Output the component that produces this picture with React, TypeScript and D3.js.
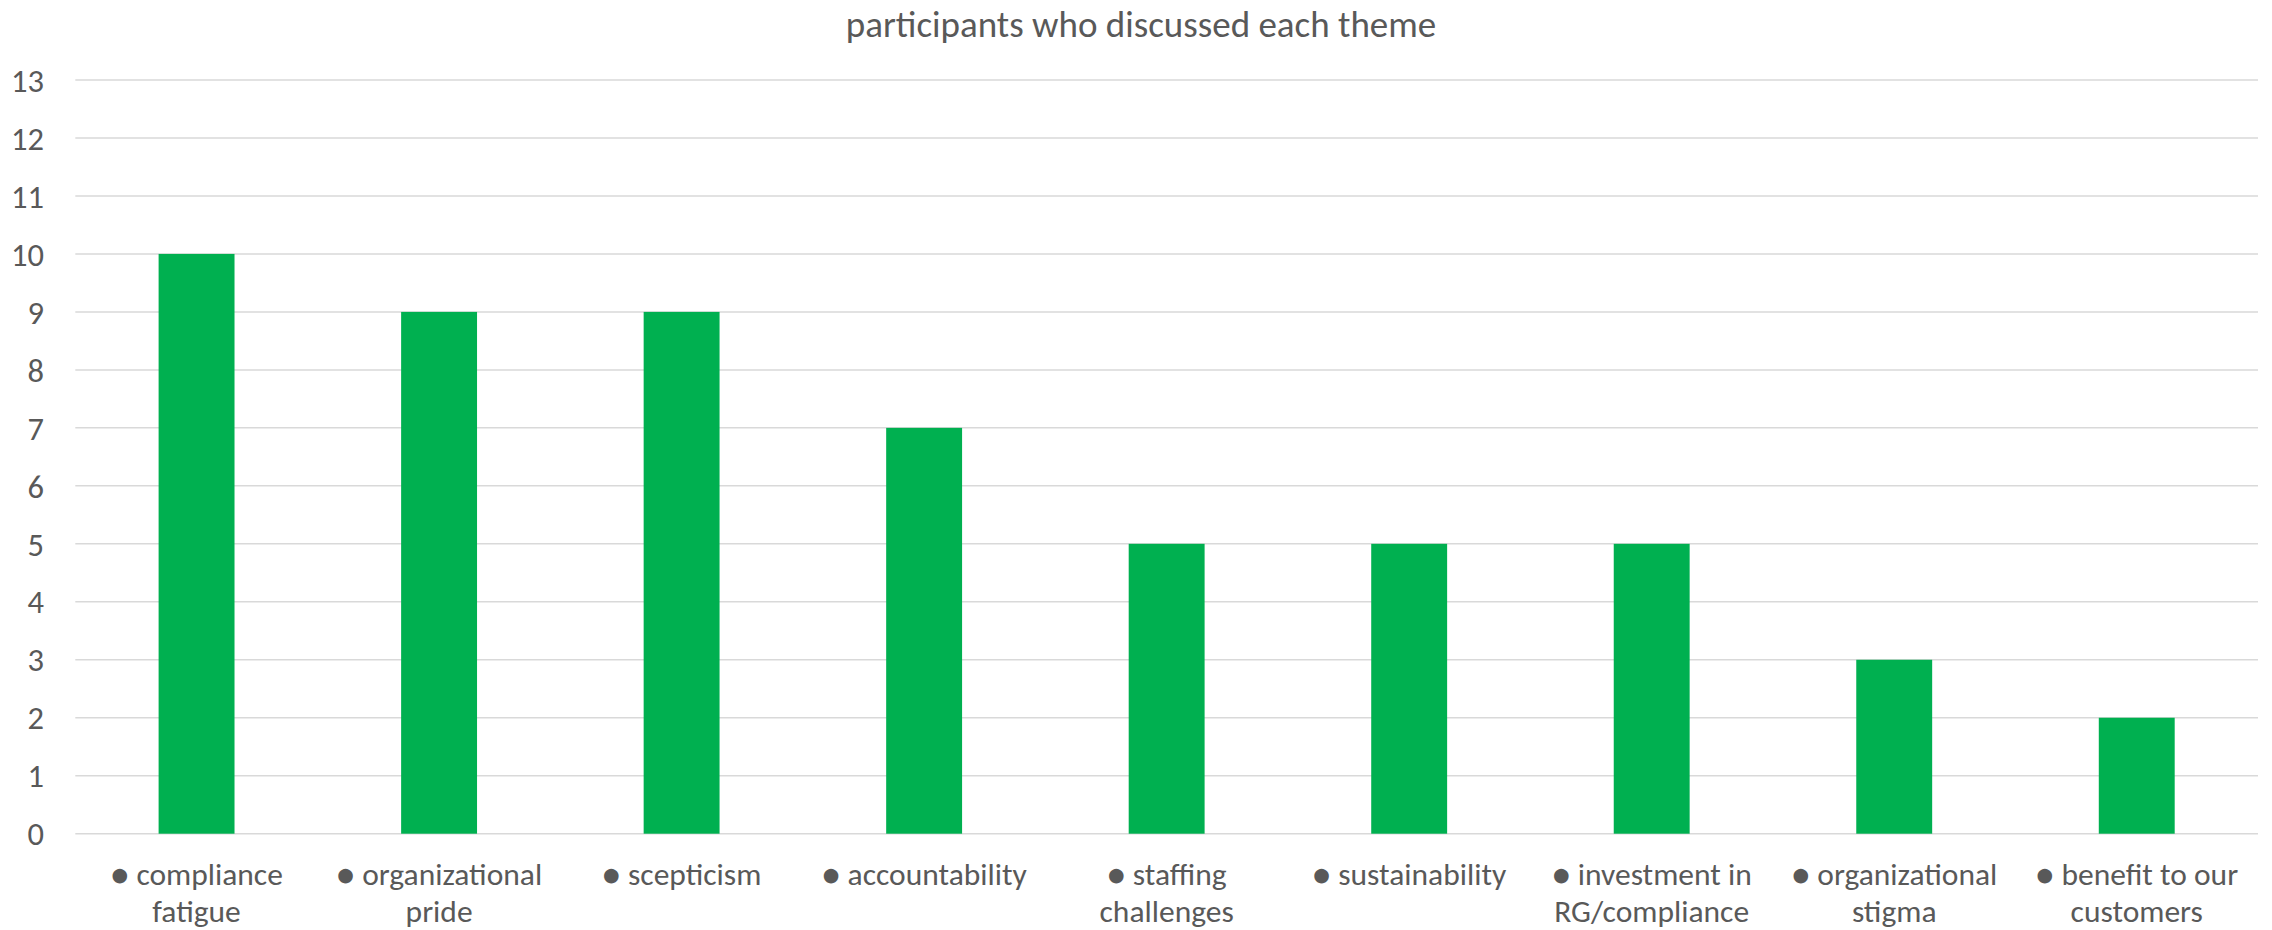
import React from "react";
import * as d3 from "d3";

const title = "participants who discussed each theme";
const categories: string[][] = [
  ["\u25CF compliance", "fatigue"],
  ["\u25CF organizational", "pride"],
  ["\u25CF scepticism"],
  ["\u25CF accountability"],
  ["\u25CF staffing", "challenges"],
  ["\u25CF sustainability"],
  ["\u25CF investment in", "RG/compliance"],
  ["\u25CF organizational", "stigma"],
  ["\u25CF benefit to our", "customers"],
];
const values: number[] = [10, 9, 9, 7, 5, 5, 5, 3, 2];
const yTicks: number[] = d3.range(0, 14);

const W = 2272;
const H = 930;
const FONT = "Carlito, Calibri, Lato, 'Open Sans', sans-serif";
const TEXT = "#595959";

export default function App() {
  const left = 75.3;
  const right = 2258;
  const top = 80;
  const bottom = 833.7;
  const keys = categories.map((_, i) => String(i));
  const x = d3.scaleBand<string>().domain(keys).range([left, right]).paddingInner(0.687).paddingOuter(0.3435);
  const y = d3.scaleLinear().domain([0, 13]).range([bottom, top]);
  const labelSize = 31.5;
  const lineStep = labelSize * 1.205;

  return (
    <svg width={W} height={H} style={{ position: "absolute", left: 0, top: 0, background: "#fff" }} fontFamily={FONT}>
      <rect x={0} y={0} width={W} height={H} fill="#fff" />
      <text x={1141} y={37} textAnchor="middle" fontSize={37} fill={TEXT}>{title}</text>
      {yTicks.map((t) => (
        <g key={t}>
          <line x1={left} x2={right} y1={y(t)} y2={y(t)} stroke="#d9d9d9" strokeWidth={1.5} />
          <text x={44} y={y(t)} dy="0.36em" textAnchor="end" fontSize={32.5} fill={TEXT}>{t}</text>
        </g>
      ))}
      {values.map((v, i) => (
        <rect key={i} x={x(String(i))} y={y(v)} width={x.bandwidth()} height={y(0) - y(v)} fill="#00b050" />
      ))}
      {categories.map((lines, i) => {
        const cx = (x(String(i)) as number) + x.bandwidth() / 2;
        return (
          <g key={i}>
            {lines.map((l, j) => (
              <text key={j} x={cx} y={884.5 + j * lineStep} textAnchor="middle" fontSize={labelSize} fill={TEXT}>{l}</text>
            ))}
          </g>
        );
      })}
    </svg>
  );
}
